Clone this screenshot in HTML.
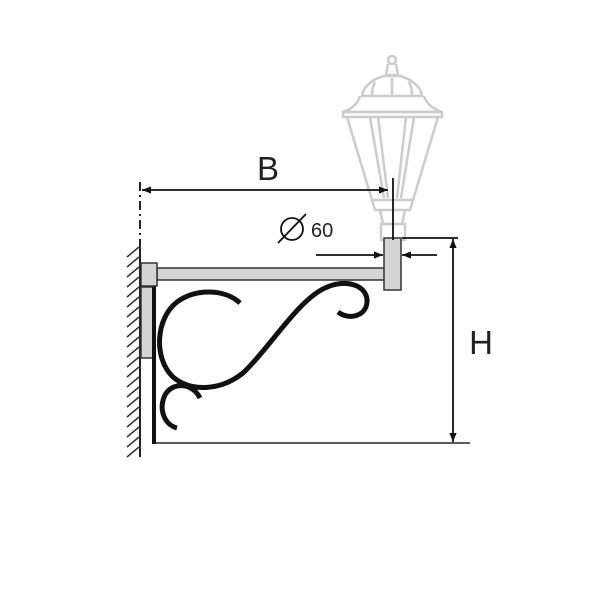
<!DOCTYPE html>
<html><head><meta charset="utf-8"><style>html,body{margin:0;padding:0;background:#fff}svg{display:block}</style></head><body>
<svg width="600" height="600" viewBox="0 0 600 600" xmlns="http://www.w3.org/2000/svg">
<defs><marker id="a" viewBox="0 0 10 10" refX="10" refY="5" markerWidth="9" markerHeight="9" orient="auto-start-reverse" markerUnits="userSpaceOnUse"><path d="M0,1 L10,5 L0,9 z" fill="#111"/></marker></defs>
<!-- lamp -->
<g fill="none" stroke="#ccc" stroke-width="2.5">
<circle cx="392" cy="60" r="4"/>
<path d="M388,64 L386,75 L398,75 L396,64"/>
<path d="M384,76 C370,80 363,88 362,96 L422,96 C421,88 414,80 400,76 Z"/>
<path d="M392,78 L392,96 M375,82 C372,88 372,92 372,96 M409,82 C412,88 412,92 412,96"/>
<path d="M360,96 C358,104 350,110 343,112 L442,112 C435,110 426,104 424,96"/>
<rect x="343" y="112" width="99" height="5"/>
<path d="M347,117 L372,200 L413,200 L438,117"/>
<path d="M370,117 L384,198 M414,117 L401,198 M378,117 L388,198 M406,117 L397,198"/>
<path d="M372,200 L375,210 L410,210 L413,200 M380,210 L383,224 L402,224 L405,210"/>
<rect x="381" y="224" width="24" height="16"/>
</g>
<!-- wall -->
<line x1="140" y1="243" x2="140" y2="457" stroke="#222" stroke-width="2"/>
<g stroke="#333" stroke-width="1.5">
<path d="M127,257 L139,247 M127,267 L139,257 M127,277 L139,267 M127,287 L139,277 M127,297 L139,287 M127,307 L139,297 M127,317 L139,307 M127,327 L139,317 M127,337 L139,327 M127,347 L139,337 M127,357 L139,347 M127,367 L139,357 M127,377 L139,367 M127,387 L139,377 M127,397 L139,387 M127,407 L139,397 M127,417 L139,407 M127,427 L139,417 M127,437 L139,427 M127,447 L139,437 M127,457 L139,447"/>
</g>
<line x1="140" y1="182" x2="140" y2="243" stroke="#222" stroke-width="2" stroke-dasharray="9,4,2,4"/>
<!-- bracket -->
<rect x="141" y="287" width="12" height="71" fill="#d4d4d4" stroke="#333" stroke-width="1.5"/>
<rect x="152" y="286" width="4" height="158" fill="#111"/>
<rect x="157" y="268" width="228" height="12" fill="#d4d4d4" stroke="#333" stroke-width="1.5"/>
<rect x="141" y="263" width="16" height="23" fill="#d4d4d4" stroke="#333" stroke-width="1.5"/>
<rect x="384" y="238" width="17" height="52" fill="#d4d4d4" stroke="#333" stroke-width="1.5"/>
<line x1="155" y1="443" x2="470" y2="443" stroke="#222" stroke-width="1.5"/>
<g fill="none" stroke="#111" stroke-width="5" stroke-linecap="butt">
<path d="M240,303 C225,289 196,288 177,302 C156,318 153,358 173,377 C192,393 222,390 243,373 C268,350 298,300 325,288 C345,278 368,285 367,302 C366,317 348,320 338,312"/>
<path d="M200,398 C192,382 172,382 165,395 C158,410 165,425 177,428"/>
</g>
<!-- dimensions -->
<g stroke="#111" stroke-width="1.8" fill="none">
<line x1="142" y1="190" x2="388" y2="190" marker-start="url(#a)" marker-end="url(#a)"/>
<line x1="393" y1="178" x2="393" y2="240"/>
<line x1="402" y1="238" x2="458" y2="238"/>
<line x1="453" y1="239" x2="453" y2="442" marker-start="url(#a)" marker-end="url(#a)"/>
<line x1="316" y1="255" x2="383" y2="255" marker-end="url(#a)"/>
<line x1="437" y1="255" x2="402" y2="255" marker-end="url(#a)"/>
<circle cx="292" cy="229" r="11"/>
<line x1="278" y1="243" x2="306" y2="214"/>
</g>
<text x="268" y="180" font-family="Liberation Sans, sans-serif" font-size="33" text-anchor="middle" fill="#222">B</text>
<text x="311" y="237" font-family="Liberation Sans, sans-serif" font-size="20" fill="#222">60</text>
<text x="481" y="354" font-family="Liberation Sans, sans-serif" font-size="33" text-anchor="middle" fill="#222">H</text>
</svg>
</body></html>
